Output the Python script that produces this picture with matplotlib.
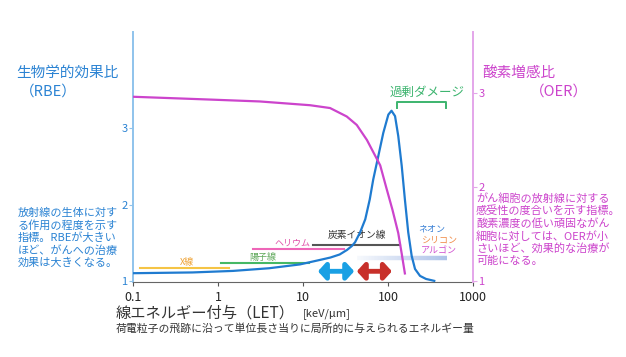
import numpy as np
import matplotlib
matplotlib.use("Agg")
import matplotlib.pyplot as plt
from matplotlib.collections import LineCollection
from matplotlib.colors import to_rgba

plt.rcParams['font.family'] = ['Noto Sans CJK JP', 'DejaVu Sans']

# RBE curve (LET keV/um -> RBE)
rbe_let = [0.1, 0.5, 1.5, 4, 9.2, 16, 21, 27, 33, 37.5, 41, 47, 54, 61, 67, 77, 88,
           101, 110, 121, 132, 145, 158, 173, 190, 208, 238, 280, 350]
rbe_val = [1.105, 1.115, 1.135, 1.17, 1.22, 1.28, 1.31, 1.35, 1.41, 1.46, 1.51, 1.64,
           1.81, 2.07, 2.33, 2.64, 2.94, 3.18, 3.23, 3.16, 2.90, 2.51, 2.07, 1.64,
           1.33, 1.16, 1.07, 1.03, 1.005]

# OER curve (right axis)
oer_let = [0.1, 0.81, 3.1, 12.1, 20.8, 32.7, 42.9, 56.5, 81, 95, 113, 132, 145, 158]
oer_val = [2.96, 2.93, 2.91, 2.87, 2.84, 2.75, 2.66, 2.50, 2.23, 2.0, 1.755, 1.51, 1.29, 1.08]

# LET ranges of the radiation types: (start, end, level on RBE axis)
ranges = {
    'X線': (0.121, 1.35, 1.17),
    '陽子線': (1.08, 11.8, 1.235),
    'ヘリウム': (2.6, 30, 1.42),
    '炭素イオン線': (13, 140, 1.47),
}
range_colors = {'X線': '#f5c445', '陽子線': '#45b865', 'ヘリウム': '#ee66b8', '炭素イオン線': '#555555'}
heavy_range = (43, 494, 1.30)

# arrows under the peak
blue_arrow = (15, 40, 1.13)
red_arrow = (43, 111, 1.13)

# overkill bracket
bracket_let = [128, 128, 479, 479]
bracket_rbe = [3.27, 3.34, 3.34, 3.27]

x_ticks = [0.1, 1, 10, 100, 1000]
x_ticklabels = ['0.1', '1', '10', '100', '1000']

BLUE = '#2b83d3'
MAG = '#cc44cc'

W, H = 626, 357
fig = plt.figure(figsize=(W / 100, H / 100), dpi=100)


def px(x, y):
    return x / W, 1 - y / H


ax = fig.add_axes([133 / W, (H - 282) / H, 340 / W, 250 / H])
ax.set_xscale('log')
ax.set_xlim(0.1, 1000)
ax.set_ylim(0.99, 4.26)
ax.set_xticks(x_ticks)
ax.set_xticklabels(x_ticklabels)
ax.xaxis.set_minor_locator(matplotlib.ticker.NullLocator())
ax.set_yticks([1, 2, 3])
ax.tick_params(axis='x', labelsize=9, colors='#555555', labelcolor='#222222', length=3)
ax.tick_params(axis='y', labelsize=8, colors='#8fc3ec', labelcolor=BLUE, length=3, pad=1)
for s in ['top', 'right']:
    ax.spines[s].set_visible(False)
ax.spines['left'].set_color('#8fc3ec')
ax.spines['left'].set_linewidth(1.4)
ax.spines['bottom'].set_color('#666666')
ax.patch.set_visible(False)

ax2 = ax.twinx()
ax2.set_ylim(0.989, 3.649)
ax2.set_yticks([1, 2, 3])
ax2.tick_params(axis='y', labelsize=8, colors='#e4a6ea', labelcolor=MAG, length=3, pad=1)
for s in ['top', 'left', 'bottom']:
    ax2.spines[s].set_visible(False)
ax2.spines['right'].set_color('#e4a6ea')
ax2.spines['right'].set_linewidth(1.4)

# radiation ranges
for name, (a, b, lev) in ranges.items():
    ax.plot([a, b], [lev, lev], color=range_colors[name], lw=1.5, zorder=2)

seg_x = np.logspace(np.log10(heavy_range[0]), np.log10(heavy_range[1]), 60)
segs = [[(seg_x[i], heavy_range[2]), (seg_x[i + 1], heavy_range[2])] for i in range(len(seg_x) - 1)]
base = np.array(to_rgba('#9cb6e4'))
cols = []
for i in range(len(segs)):
    c = base.copy()
    c[3] = 0.08 + 0.75 * i / (len(segs) - 1)
    cols.append(c)
ax.add_collection(LineCollection(segs, colors=cols, linewidths=3.2, zorder=2))

ax.text(0.43, 1.25, 'X線', color='#eea030', fontsize=6.5, ha='center', va='center')
ax.text(3.4, 1.31, '陽子線', color='#5fa85a', fontsize=6.5, ha='center', va='center')
ax.text(7.6, 1.50, 'ヘリウム', color='#e050a8', fontsize=6.5, ha='center', va='center')
ax.text(43, 1.61, '炭素イオン線', color='#333333', fontsize=7, ha='center', va='center')
ax.text(225, 1.68, 'ネオン', color='#3a80d5', fontsize=6.5, ha='left', va='center')
ax.text(245, 1.53, 'シリコン', color='#f08a45', fontsize=6.5, ha='left', va='center')
ax.text(245, 1.39, 'アルゴン', color='#d050d0', fontsize=6.5, ha='left', va='center')

# arrows
for (a, b, lev), c in [(blue_arrow, '#1aa0e4'), (red_arrow, '#c8302a')]:
    ax.annotate('', xy=(b, lev), xytext=(a, lev),
                arrowprops=dict(arrowstyle='<|-|>,head_length=0.45,head_width=0.5',
                                color=c, lw=3.5, shrinkA=0, shrinkB=0, mutation_scale=10))

# curves
ax.plot(rbe_let, rbe_val, color='#1f7bd0', lw=1.6, zorder=4)
ax2.plot(oer_let, oer_val, color=MAG, lw=1.6, zorder=3)

ax.plot(bracket_let, bracket_rbe, color='#3cb46e', lw=1.4, clip_on=False)
ax.text(288, 3.47, '過剰ダメージ', color='#3cb46e', fontsize=9, ha='center', va='center')

# axis titles and notes
fig.text(*px(16, 73), '生物学的効果比', color=BLUE, fontsize=10.5, ha='left', va='center')
fig.text(*px(20, 92), '（RBE）', color=BLUE, fontsize=10.5, ha='left', va='center')
fig.text(*px(18, 208), '放射線の生体に対す\nる作用の程度を示す\n指標。RBEが大きい\nほど、がんへの治療\n効果は大きくなる。',
         color=BLUE, fontsize=8, ha='left', va='top', linespacing=1.2)

fig.text(*px(482, 73), '酸素増感比', color=MAG, fontsize=10.5, ha='left', va='center')
fig.text(*px(530, 92), '（OER）', color=MAG, fontsize=10.5, ha='left', va='center')
fig.text(*px(476, 193), 'がん細胞の放射線に対する\n感受性の度合いを示す指標。\n酸素濃度の低い頑固ながん\n細胞に対しては、OERが小\nさいほど、効果的な治療が\n可能になる。',
         color=MAG, fontsize=8, ha='left', va='top', linespacing=1.2)

fig.text(*px(116, 313), '線エネルギー付与（LET）', color='#333333', fontsize=11, ha='left', va='center')
fig.text(*px(303, 314), '[keV/μm]', color='#333333', fontsize=8, ha='left', va='center')
fig.text(*px(116, 329), '荷電粒子の飛跡に沿って単位長さ当りに局所的に与えられるエネルギー量',
         color='#333333', fontsize=7.8, ha='left', va='center')

fig.savefig('out.png', dpi=100)
